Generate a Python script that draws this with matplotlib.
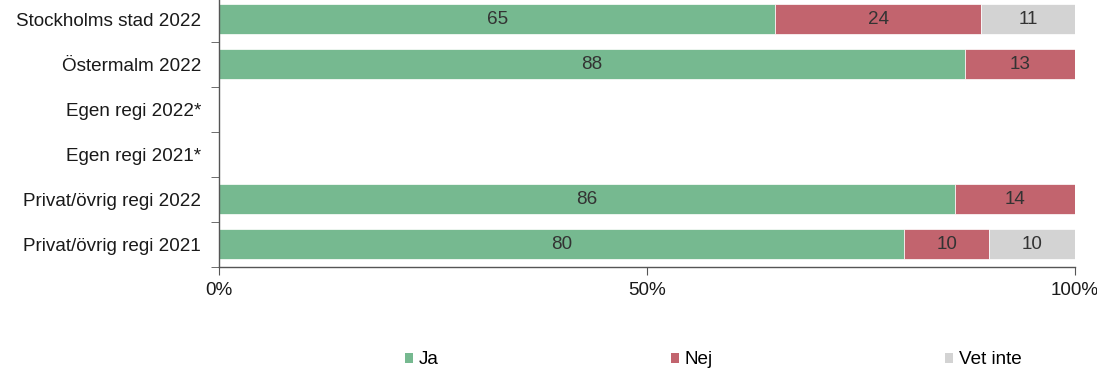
import numpy as np
import matplotlib
matplotlib.use("Agg")
import matplotlib.pyplot as plt
from matplotlib.ticker import PercentFormatter

plt.rcParams['font.family'] = ['Liberation Sans', 'DejaVu Sans']

categories = ["Stockholms stad 2022", "Östermalm 2022", "Egen regi 2022*",
              "Egen regi 2021*", "Privat/övrig regi 2022", "Privat/övrig regi 2021"]
series_names = ["Ja", "Nej", "Vet inte"]
ja = [65, 88, np.nan, np.nan, 86, 80]
nej = [24, 13, np.nan, np.nan, 14, 10]
vet_inte = [11, np.nan, np.nan, np.nan, np.nan, 10]
colors = ["#76B990", "#C2646E", "#D3D3D3"]
x_ticks = [0, 50, 100]

FS = 13.6

values = np.array([ja, nej, vet_inte], dtype=float)
# 100% stacked: each row is scaled to its own total
totals = np.nansum(values, axis=0)
shares = np.where(totals > 0, np.nan_to_num(values) / np.where(totals > 0, totals, 1) * 100, 0)

fig = plt.figure(figsize=(10.97, 3.71), dpi=100)
ax = fig.add_axes([219 / 1097, 1 - 267 / 371, (1075 - 219) / 1097, 270.5 / 371])

y = np.arange(len(categories))
left = np.zeros(len(categories))
for name, vals, share, col in zip(series_names, values, shares, colors):
    ax.barh(y, share, left=left, height=0.667, color=col, label=name,
            edgecolor="white", linewidth=0.5)
    for yi, v, s, l in zip(y, vals, share, left):
        if not np.isnan(v) and s > 0:
            ax.text(l + s / 2, yi, f"{v:.0f}", ha="center", va="center",
                    fontsize=FS, color="#333333")
    left = left + share

ax.set_xlim(0, 100)
ax.set_ylim(len(categories) - 0.5, -0.5)
ax.set_yticks(y)
ax.set_yticklabels(categories, fontsize=FS, color="#1a1a1a")
ax.set_yticks(np.arange(len(categories) + 1) - 0.5, minor=True)
ax.tick_params(axis="y", which="major", length=0, pad=13)
ax.tick_params(axis="y", which="minor", length=6, color="#555555", direction="out")
ax.set_xticks(x_ticks)
ax.xaxis.set_major_formatter(PercentFormatter(decimals=0))
ax.tick_params(axis="x", length=6, color="#555555", labelsize=FS, pad=5,
               labelcolor="#1a1a1a")
for s in ["top", "right"]:
    ax.spines[s].set_visible(False)
for s in ["left", "bottom"]:
    ax.spines[s].set_color("#555555")
    ax.spines[s].set_linewidth(1.0)

handles, labels = ax.get_legend_handles_labels()
leg = fig.legend(handles, labels, loc="center", bbox_to_anchor=(713 / 1097, 1 - 360 / 371),
                 ncol=3, frameon=False, fontsize=FS, handlelength=0.45, handleheight=0.45,
                 handletextpad=0.28, columnspacing=12.3, borderpad=0)
for h in leg.legend_handles:
    h.set_edgecolor("none")

fig.savefig("out.png", dpi=100)
